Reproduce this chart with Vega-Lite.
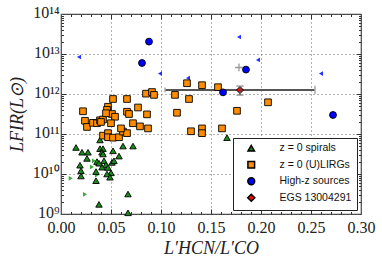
{
  "$schema": "https://vega.github.io/schema/vega-lite/v6.json",
  "width": 300,
  "height": 200,
  "autosize": {"type": "none"},
  "padding": {"left": 61, "top": 14, "right": 21, "bottom": 49},
  "background": "white",
  "config": {
    "view": {"stroke": "#444", "strokeWidth": 1.2},
    "axis": {
      "labelFont": "Liberation Serif",
      "labelFontSize": 16,
      "titleFont": "Liberation Serif",
      "titleFontSize": 18,
      "titleFontStyle": "italic",
      "titleFontWeight": "normal",
      "domain": false,
      "tickColor": "#333",
      "labelColor": "#222",
      "titleColor": "#222"
    },
    "legend": {
      "padding": 5,
      "labelFont": "Liberation Sans",
      "labelFontSize": 10.5,
      "labelColor": "#111",
      "labelOffset": 23,
      "rowPadding": 2.5,
      "symbolOffset": 8,
      "cornerRadius": 0,
      "fillColor": "white",
      "strokeColor": "#222"
    }
  },
  "resolve": {"axis": {"x": "independent", "y": "independent"}},
  "layer": [
    {
      "data": {"values": [{"lo": 0.104, "hi": 0.254, "y": 1.26e12}]},
      "mark": {"type": "rule", "color": "#555", "strokeWidth": 2},
      "encoding": {
        "x": {"field": "lo", "type": "quantitative",
          "scale": {"domain": [0, 0.3], "nice": false, "zero": false},
          "axis": {"orient": "bottom", "values": [0, 0.05, 0.1, 0.15, 0.2, 0.25, 0.3], "format": ".2f",
            "grid": true, "gridDash": [1, 3], "gridColor": "#666", "ticks": false, "labelPadding": 5,
            "labelFlush": false, "title": "L′HCN/L′CO", "titlePadding": 4}},
        "x2": {"field": "hi"},
        "y": {"field": "y", "type": "quantitative",
          "scale": {"type": "log", "domain": [1e9, 1e14], "nice": false},
          "axis": {"orient": "left", "values": [1e9, 1e10, 1e11, 1e12, 1e13, 1e14],
            "labelExpr": "'10' + ['⁹','¹⁰','¹¹','¹²','¹³','¹⁴'][round(log(datum.value)/LN10) - 9]",
            "grid": true, "gridDash": [1, 3], "gridColor": "#666", "ticks": false, "labelPadding": 2, "labelOffset": -2,
            "labelFlush": false, "title": "LFIR(L⊙)", "titlePadding": 6}}
      }
    },
    {
      "data": {"values": [
        {"x": 0.0097, "y": 7.8e9}, {"x": 0.024, "y": 3.1e9}, {"x": 0.031, "y": 1.5e10},
        {"x": 0.033, "y": 2.14e10}, {"x": 0.036, "y": 9.4e9}
      ]},
      "mark": {"type": "point", "shape": "triangle-right", "filled": true, "color": "#3aa83a", "size": 22, "opacity": 1},
      "encoding": {
        "x": {"field": "x", "type": "quantitative",
          "axis": {"orient": "bottom", "values": [0.05, 0.1, 0.15, 0.2, 0.25], "labels": false, "grid": false, "tickSize": -5, "title": null}},
        "y": {"field": "y", "type": "quantitative",
          "axis": {"orient": "left", "values": [1e10, 1e11, 1e12, 1e13], "labels": false, "grid": false, "tickSize": -5, "title": null}}
      }
    },
    {
      "data": {"values": [
        {"x": 0.018, "y": 8.4e12}, {"x": 0.099, "y": 3.24e12}, {"x": 0.127, "y": 2.5e12},
        {"x": 0.178, "y": 2.66e13}, {"x": 0.197, "y": 7.1e12}, {"x": 0.26, "y": 3.24e12}
      ]},
      "mark": {"type": "point", "shape": "triangle-left", "filled": true, "color": "#2233ff", "size": 22, "opacity": 1},
      "encoding": {
        "x": {"field": "x", "type": "quantitative",
          "axis": {"orient": "top", "values": [0.05, 0.1, 0.15, 0.2, 0.25], "labels": false, "grid": false, "tickSize": -5, "title": null}},
        "y": {"field": "y", "type": "quantitative",
          "axis": {"orient": "right", "values": [1e10, 1e11, 1e12, 1e13], "labels": false, "grid": false, "tickSize": -5, "title": null}}
      }
    },
    {
      "data": {"values": [{"x": 0.178, "y": 4.6e12}]},
      "mark": {"type": "point", "shape": "M-1,0L1,0M0,-1L0,1", "filled": false, "stroke": "#999", "strokeWidth": 1.3, "size": 60, "opacity": 1},
      "encoding": {
        "x": {"field": "x", "type": "quantitative",
          "axis": {"orient": "bottom", "values": [0.01,0.02,0.03,0.04,0.06,0.07,0.08,0.09,0.11,0.12,0.13,0.14,0.16,0.17,0.18,0.19,0.21,0.22,0.23,0.24,0.26,0.27,0.28,0.29],
            "labels": false, "grid": false, "tickSize": -2.5, "title": null}},
        "y": {"field": "y", "type": "quantitative",
          "axis": {"orient": "left", "values": [2e9,3e9,4e9,5e9,6e9,7e9,8e9,9e9,2e10,3e10,4e10,5e10,6e10,7e10,8e10,9e10,2e11,3e11,4e11,5e11,6e11,7e11,8e11,9e11,2e12,3e12,4e12,5e12,6e12,7e12,8e12,9e12,2e13,3e13,4e13,5e13,6e13,7e13,8e13,9e13],
            "labels": false, "grid": false, "tickSize": -2.5, "title": null}}
      }
    },
    {
      "data": {"values": [
        {"type": "z = 0 spirals", "x": 0.015, "y": 4.6e10}, {"type": "z = 0 spirals", "x": 0.021, "y": 3.5e10},
        {"type": "z = 0 spirals", "x": 0.027, "y": 3.5e10}, {"type": "z = 0 spirals", "x": 0.026, "y": 2.45e10},
        {"type": "z = 0 spirals", "x": 0.019, "y": 1.66e10}, {"type": "z = 0 spirals", "x": 0.020, "y": 1.2e10},
        {"type": "z = 0 spirals", "x": 0.020, "y": 8.9e9}, {"type": "z = 0 spirals", "x": 0.035, "y": 6.8e9},
        {"type": "z = 0 spirals", "x": 0.039, "y": 7.1e10}, {"type": "z = 0 spirals", "x": 0.039, "y": 4.3e10},
        {"type": "z = 0 spirals", "x": 0.042, "y": 4.3e10}, {"type": "z = 0 spirals", "x": 0.041, "y": 3.5e10},
        {"type": "z = 0 spirals", "x": 0.042, "y": 3.16e10}, {"type": "z = 0 spirals", "x": 0.052, "y": 3.8e10},
        {"type": "z = 0 spirals", "x": 0.058, "y": 2.8e10}, {"type": "z = 0 spirals", "x": 0.036, "y": 2.04e10},
        {"type": "z = 0 spirals", "x": 0.043, "y": 2.14e10}, {"type": "z = 0 spirals", "x": 0.051, "y": 1.95e10},
        {"type": "z = 0 spirals", "x": 0.045, "y": 1.7e10}, {"type": "z = 0 spirals", "x": 0.041, "y": 1.48e10},
        {"type": "z = 0 spirals", "x": 0.047, "y": 1.45e10}, {"type": "z = 0 spirals", "x": 0.035, "y": 1.15e10},
        {"type": "z = 0 spirals", "x": 0.050, "y": 1.07e10}, {"type": "z = 0 spirals", "x": 0.046, "y": 1.0e10},
        {"type": "z = 0 spirals", "x": 0.049, "y": 8.3e9}, {"type": "z = 0 spirals", "x": 0.062, "y": 5.0e10},
        {"type": "z = 0 spirals", "x": 0.072, "y": 5.0e10}, {"type": "z = 0 spirals", "x": 0.067, "y": 3.16e9},
        {"type": "z = 0 spirals", "x": 0.038, "y": 1.74e9}, {"type": "z = 0 spirals", "x": 0.067, "y": 1.07e9},
        {"type": "z = 0 spirals", "x": 0.166, "y": 8.1e10}, {"type": "z = 0 spirals", "x": 0.038, "y": 1.86e10},
        {"type": "z = 0 spirals", "x": 0.053, "y": 2.14e10},
        {"type": "z = 0 (U)LIRGs", "x": 0.052, "y": 7.5e11}, {"type": "z = 0 (U)LIRGs", "x": 0.066, "y": 7.5e11},
        {"type": "z = 0 (U)LIRGs", "x": 0.047, "y": 4.8e11}, {"type": "z = 0 (U)LIRGs", "x": 0.022, "y": 3.7e11},
        {"type": "z = 0 (U)LIRGs", "x": 0.046, "y": 4.0e11}, {"type": "z = 0 (U)LIRGs", "x": 0.051, "y": 3.16e11},
        {"type": "z = 0 (U)LIRGs", "x": 0.054, "y": 2.7e11}, {"type": "z = 0 (U)LIRGs", "x": 0.066, "y": 3.6e11},
        {"type": "z = 0 (U)LIRGs", "x": 0.068, "y": 3.16e11}, {"type": "z = 0 (U)LIRGs", "x": 0.024, "y": 2.14e11},
        {"type": "z = 0 (U)LIRGs", "x": 0.026, "y": 1.5e11}, {"type": "z = 0 (U)LIRGs", "x": 0.032, "y": 1.9e11},
        {"type": "z = 0 (U)LIRGs", "x": 0.036, "y": 1.86e11}, {"type": "z = 0 (U)LIRGs", "x": 0.039, "y": 2.2e11},
        {"type": "z = 0 (U)LIRGs", "x": 0.042, "y": 2.3e11}, {"type": "z = 0 (U)LIRGs", "x": 0.050, "y": 1.86e11},
        {"type": "z = 0 (U)LIRGs", "x": 0.042, "y": 9.1e10}, {"type": "z = 0 (U)LIRGs", "x": 0.047, "y": 1.05e11},
        {"type": "z = 0 (U)LIRGs", "x": 0.047, "y": 8.3e10}, {"type": "z = 0 (U)LIRGs", "x": 0.052, "y": 8.1e10},
        {"type": "z = 0 (U)LIRGs", "x": 0.058, "y": 8.3e10}, {"type": "z = 0 (U)LIRGs", "x": 0.062, "y": 1.15e11},
        {"type": "z = 0 (U)LIRGs", "x": 0.066, "y": 1.05e11}, {"type": "z = 0 (U)LIRGs", "x": 0.060, "y": 1.38e11},
        {"type": "z = 0 (U)LIRGs", "x": 0.077, "y": 4.6e11}, {"type": "z = 0 (U)LIRGs", "x": 0.086, "y": 3.1e11},
        {"type": "z = 0 (U)LIRGs", "x": 0.072, "y": 1.86e11}, {"type": "z = 0 (U)LIRGs", "x": 0.079, "y": 1.55e11},
        {"type": "z = 0 (U)LIRGs", "x": 0.087, "y": 1.38e11}, {"type": "z = 0 (U)LIRGs", "x": 0.116, "y": 3.4e11},
        {"type": "z = 0 (U)LIRGs", "x": 0.085, "y": 1.02e12}, {"type": "z = 0 (U)LIRGs", "x": 0.091, "y": 1.12e12},
        {"type": "z = 0 (U)LIRGs", "x": 0.093, "y": 9.5e11}, {"type": "z = 0 (U)LIRGs", "x": 0.126, "y": 1.86e12},
        {"type": "z = 0 (U)LIRGs", "x": 0.141, "y": 1.66e12}, {"type": "z = 0 (U)LIRGs", "x": 0.157, "y": 1.48e12},
        {"type": "z = 0 (U)LIRGs", "x": 0.114, "y": 9.5e11}, {"type": "z = 0 (U)LIRGs", "x": 0.128, "y": 7.5e11},
        {"type": "z = 0 (U)LIRGs", "x": 0.176, "y": 3.8e11}, {"type": "z = 0 (U)LIRGs", "x": 0.207, "y": 6.2e11},
        {"type": "z = 0 (U)LIRGs", "x": 0.130, "y": 1.17e11}, {"type": "z = 0 (U)LIRGs", "x": 0.141, "y": 1.38e11},
        {"type": "z = 0 (U)LIRGs", "x": 0.141, "y": 1.05e11}, {"type": "z = 0 (U)LIRGs", "x": 0.161, "y": 1.38e11},
        {"type": "z = 0 (U)LIRGs", "x": 0.045, "y": 3.3e11}, {"type": "z = 0 (U)LIRGs", "x": 0.040, "y": 2.0e11},
        {"type": "High-z sources", "x": 0.088, "y": 2.04e13}, {"type": "High-z sources", "x": 0.081, "y": 5.96e12},
        {"type": "High-z sources", "x": 0.185, "y": 4.07e12}, {"type": "High-z sources", "x": 0.162, "y": 1.1e12},
        {"type": "High-z sources", "x": 0.272, "y": 2.99e11},
        {"type": "EGS 13004291", "x": 0.179, "y": 1.26e12}
      ]},
      "mark": {"type": "point", "filled": true, "stroke": "black", "strokeWidth": 0.9, "opacity": 1},
      "encoding": {
        "x": {"field": "x", "type": "quantitative",
          "axis": {"orient": "top", "values": [0.01,0.02,0.03,0.04,0.06,0.07,0.08,0.09,0.11,0.12,0.13,0.14,0.16,0.17,0.18,0.19,0.21,0.22,0.23,0.24,0.26,0.27,0.28,0.29],
            "labels": false, "grid": false, "tickSize": -2.5, "title": null}},
        "y": {"field": "y", "type": "quantitative",
          "axis": {"orient": "right", "values": [2e9,3e9,4e9,5e9,6e9,7e9,8e9,9e9,2e10,3e10,4e10,5e10,6e10,7e10,8e10,9e10,2e11,3e11,4e11,5e11,6e11,7e11,8e11,9e11,2e12,3e12,4e12,5e12,6e12,7e12,8e12,9e12,2e13,3e13,4e13,5e13,6e13,7e13,8e13,9e13],
            "labels": false, "grid": false, "tickSize": -2.5, "title": null}},
        "color": {"field": "type", "type": "nominal",
          "scale": {"domain": ["z = 0 spirals", "z = 0 (U)LIRGs", "High-z sources", "EGS 13004291"], "range": ["#1a8a1a", "#ff8c00", "#0000ff", "#ff0000"]},
          "legend": {"orient": "bottom-right", "offset": 4, "title": null, "labelOffset": 23, "symbolOffset": 8, "padding": 5}},
        "shape": {"field": "type", "type": "nominal",
          "scale": {"domain": ["z = 0 spirals", "z = 0 (U)LIRGs", "High-z sources", "EGS 13004291"], "range": ["triangle-up", "square", "circle", "diamond"]},
          "legend": {"orient": "bottom-right", "offset": 4, "title": null, "labelOffset": 23, "symbolOffset": 8, "padding": 5}},
        "size": {"field": "type", "type": "nominal",
          "scale": {"domain": ["z = 0 spirals", "z = 0 (U)LIRGs", "High-z sources", "EGS 13004291"], "range": [42, 50, 55, 85]},
          "legend": {"orient": "bottom-right", "offset": 4, "title": null, "labelOffset": 23, "symbolOffset": 8, "padding": 5}}
      }
    },
    {
      "data": {"values": [{"x": 0.179, "lo": 9.4e11, "hi": 1.58e12}]},
      "mark": {"type": "rule", "color": "#555", "strokeWidth": 1.5},
      "encoding": {
        "x": {"field": "x", "type": "quantitative", "axis": null},
        "y": {"field": "lo", "type": "quantitative", "axis": null},
        "y2": {"field": "hi"}
      }
    },
    {
      "data": {"values": [
        {"x": 0.104, "lo": 1.1e12, "hi": 1.45e12}, {"x": 0.254, "lo": 1.0e12, "hi": 1.6e12}
      ]},
      "mark": {"type": "rule", "color": "#aaa", "strokeWidth": 1.5},
      "encoding": {
        "x": {"field": "x", "type": "quantitative", "axis": null},
        "y": {"field": "lo", "type": "quantitative", "axis": null},
        "y2": {"field": "hi"}
      }
    },
    {
      "data": {"values": [
        {"lo": 0.1755, "hi": 0.1825, "y": 9.4e11}, {"lo": 0.1755, "hi": 0.1825, "y": 1.58e12}
      ]},
      "mark": {"type": "rule", "color": "#888", "strokeWidth": 1.2},
      "encoding": {
        "x": {"field": "lo", "type": "quantitative", "axis": null},
        "x2": {"field": "hi"},
        "y": {"field": "y", "type": "quantitative", "axis": null}
      }
    }
  ]
}
